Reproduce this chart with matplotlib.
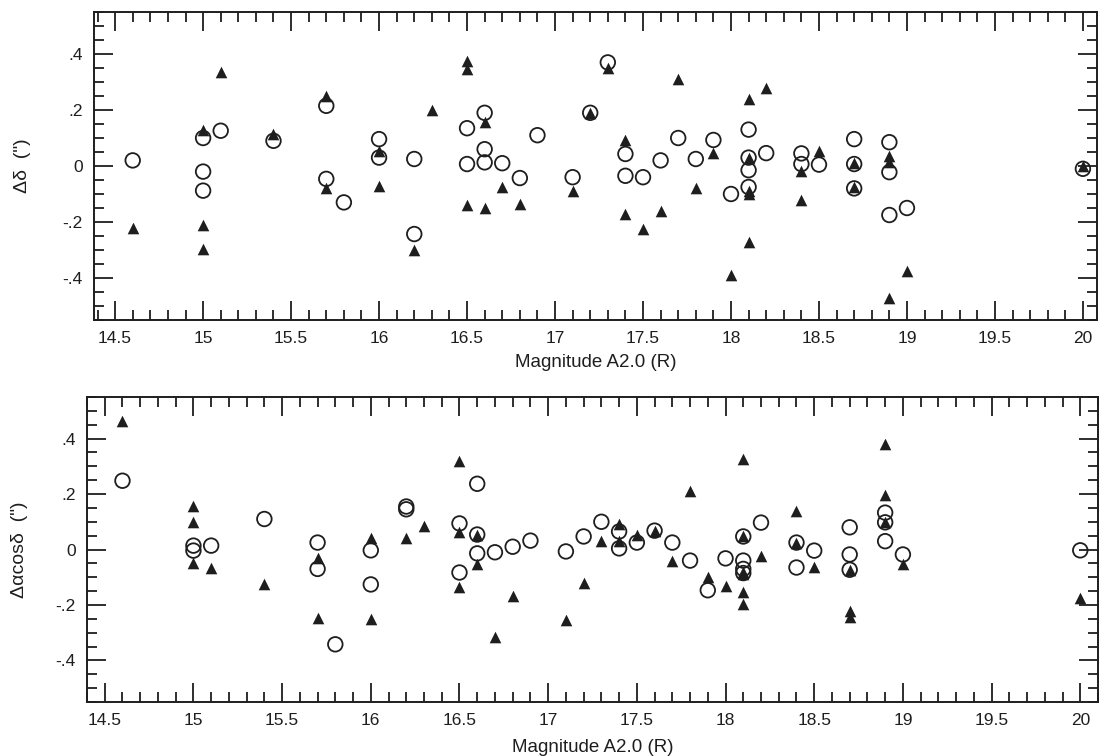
"""Residuals vs A2.0 R magnitude: two stacked panels (Δδ and Δα cosδ)."""
import numpy as np
import matplotlib
matplotlib.use("Agg")
import matplotlib.pyplot as plt
from matplotlib.ticker import MultipleLocator, FuncFormatter

plt.rcParams["font.family"] = ["Liberation Sans", "DejaVu Sans"]

# ---------- data ----------
# top panel: delta-dec residuals
top_circ_mag = [14.6, 15.0, 15.0, 15.0, 15.1, 15.4, 15.7, 15.7, 15.8, 16.0, 16.0,
                16.2, 16.2, 16.5, 16.5, 16.6, 16.6, 16.6, 16.7, 16.8, 16.9, 17.1,
                17.2, 17.3, 17.4, 17.4, 17.5, 17.6, 17.7, 17.8, 17.9, 18.0,
                18.1, 18.1, 18.1, 18.1, 18.2, 18.4, 18.4, 18.5, 18.7, 18.7, 18.7,
                18.9, 18.9, 18.9, 19.0, 20.0]
top_circ_val = [0.02, 0.10, -0.02, -0.088, 0.126, 0.09, 0.215, -0.046, -0.13, 0.096, 0.03,
                0.025, -0.243, 0.135, 0.007, 0.19, 0.06, 0.013, 0.01, -0.043, 0.11, -0.04,
                0.19, 0.37, 0.043, -0.035, -0.04, 0.02, 0.10, 0.025, 0.093, -0.10,
                0.13, 0.03, -0.015, -0.075, 0.046, 0.045, 0.007, 0.005, 0.096, 0.007, -0.08,
                0.085, -0.022, -0.175, -0.15, -0.01]
top_tri_mag = [14.6, 15.0, 15.0, 15.0, 15.1, 15.4, 15.7, 15.7, 16.0, 16.0, 16.2, 16.3,
               16.5, 16.5, 16.5, 16.6, 16.6, 16.7, 16.8, 17.1, 17.2, 17.3, 17.4, 17.4,
               17.5, 17.6, 17.7, 17.8, 17.9, 18.0, 18.1, 18.1, 18.1, 18.1, 18.1, 18.2,
               18.4, 18.4, 18.5, 18.7, 18.7, 18.9, 18.9, 18.9, 19.0, 20.0]
top_tri_val = [-0.22, 0.13, -0.21, -0.295, 0.337, 0.115, 0.25, -0.08, 0.055, -0.07, -0.30, 0.20,
               0.375, 0.346, -0.14, 0.157, -0.15, -0.075, -0.136, -0.088, 0.19, 0.35, 0.094, -0.17,
               -0.225, -0.16, 0.31, -0.08, 0.046, -0.39, 0.24, 0.03, -0.09, -0.10, -0.27, 0.28,
               -0.017, -0.12, 0.054, 0.01, -0.075, 0.036, 0.014, -0.47, -0.375, 0.0]

# bottom panel: delta-RA * cos(dec) residuals
bot_circ_mag = [14.6, 15.0, 15.0, 15.1, 15.4, 15.7, 15.7, 15.8, 16.0, 16.0, 16.2, 16.2,
                16.5, 16.5, 16.6, 16.6, 16.6, 16.7, 16.8, 16.9, 17.1, 17.2, 17.3, 17.4, 17.4,
                17.5, 17.6, 17.7, 17.8, 17.9, 18.0, 18.1, 18.1, 18.1, 18.1, 18.2, 18.4, 18.4,
                18.5, 18.7, 18.7, 18.7, 18.9, 18.9, 18.9, 19.0, 20.0]
bot_circ_val = [0.248, 0.014, -0.004, 0.014, 0.11, 0.025, -0.07, -0.342, -0.003, -0.126, 0.155, 0.145,
                0.094, -0.083, 0.237, 0.054, -0.014, -0.01, 0.01, 0.032, -0.007, 0.047, 0.10, 0.065, 0.004,
                0.025, 0.068, 0.025, -0.04, -0.147, -0.032, 0.047, -0.04, -0.07, -0.085, 0.097, 0.025, -0.065,
                -0.004, 0.08, -0.018, -0.073, 0.133, 0.098, 0.03, -0.018, -0.003]
bot_tri_mag = [14.6, 15.0, 15.0, 15.0, 15.1, 15.4, 15.7, 15.7, 16.0, 16.0, 16.2, 16.3,
               16.5, 16.5, 16.5, 16.6, 16.6, 16.7, 16.8, 17.1, 17.2, 17.3, 17.4, 17.4, 17.5,
               17.6, 17.7, 17.8, 17.9, 18.0, 18.1, 18.1, 18.1, 18.1, 18.1, 18.1, 18.2,
               18.4, 18.4, 18.5, 18.7, 18.7, 18.7, 18.9, 18.9, 18.9, 19.0, 20.0]
bot_tri_val = [0.464, 0.158, 0.10, -0.05, -0.068, -0.126, -0.03, -0.248, 0.04, -0.252, 0.04, 0.083,
               0.32, 0.062, -0.135, 0.054, -0.054, -0.316, -0.166, -0.255, -0.12, 0.029, 0.093, 0.032, 0.054,
               0.068, -0.043, 0.21, -0.10, -0.13, 0.327, 0.047, -0.08, -0.09, -0.155, -0.195, -0.022,
               0.14, 0.025, -0.064, -0.073, -0.22, -0.245, 0.38, 0.195, 0.098, -0.054, -0.175]

xlabel = "Magnitude A2.0 (R)"
ylab_top = "\u0394\u03b4  (\")"
ylab_bot = "\u0394\u03b1cos\u03b4  (\")"

fig = plt.figure(figsize=(11.09, 7.56), dpi=100)
ax1 = fig.add_axes([94 / 1109, 1 - 320 / 756, (1097 - 94) / 1109, (320 - 12) / 756])
ax2 = fig.add_axes([87 / 1109, 1 - 702 / 756, (1098 - 87) / 1109, (702 - 397) / 756])

ink = "#1e1e1e"


def yfmt(v, _):
    if abs(v) < 1e-9:
        return "0"
    s = "%.1f" % v
    return s.replace("0.", ".")


for ax, xl, cm, cv, tm, tv, yl, ylpad, xlpad in [
    (ax1, (14.38, 20.08), top_circ_mag, top_circ_val, top_tri_mag, top_tri_val, ylab_top, 23, 6),
    (ax2, (14.40, 20.10), bot_circ_mag, bot_circ_val, bot_tri_mag, bot_tri_val, ylab_bot, 20, 8),
]:
    ax.scatter(tm, tv, marker="^", s=70, color=ink, linewidths=0, zorder=3)
    ax.scatter(cm, cv, marker="o", s=110, facecolors="none", edgecolors=ink,
               linewidths=1.3, zorder=4)
    ax.set_xlim(*xl)
    ax.set_ylim(-0.55, 0.55)
    ax.xaxis.set_major_locator(MultipleLocator(0.5))
    ax.xaxis.set_minor_locator(MultipleLocator(0.1))
    ax.yaxis.set_major_locator(MultipleLocator(0.2))
    ax.yaxis.set_minor_locator(MultipleLocator(0.05))
    ax.xaxis.set_major_formatter(FuncFormatter(lambda v, _: "%g" % v))
    ax.yaxis.set_major_formatter(FuncFormatter(yfmt))
    ax.tick_params(which="both", direction="in", top=True, right=True,
                   color=ink, width=1.3, labelsize=12.5, labelcolor=ink)
    ax.tick_params(which="major", length=14, pad=8)
    ax.tick_params(which="minor", length=7)
    for sp in ax.spines.values():
        sp.set_linewidth(1.4)
        sp.set_color(ink)
    ax.set_xlabel(xlabel, fontsize=13.5, color=ink, labelpad=xlpad)
    ax.set_ylabel(yl, fontsize=14, color=ink, labelpad=ylpad)

fig.savefig("out.png", dpi=100)
